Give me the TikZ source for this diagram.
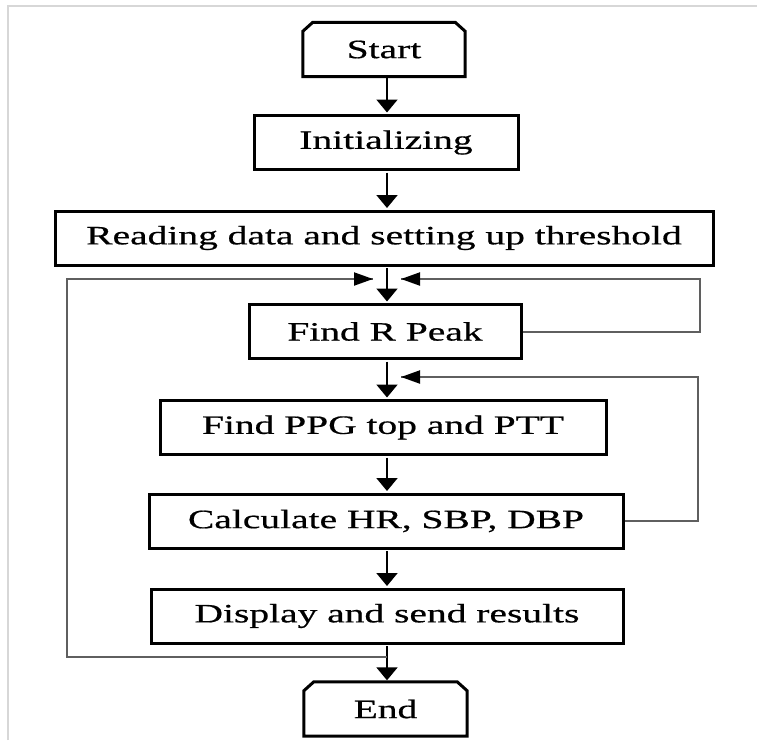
\documentclass[tikz,border=0pt]{standalone}
\usepackage{fontspec}
\setmainfont{Liberation Serif}[FakeStretch=1.49,FakeBold=0.6]
\usetikzlibrary{arrows.meta,calc}
\definecolor{loopgray}{RGB}{95,95,95}
\definecolor{framegray}{RGB}{215,215,215}
\begin{document}
\begin{tikzpicture}[x=1pt,y=-1pt,
  every node/.style={font=\fontsize{26.5}{30}\selectfont, inner sep=0pt},
  procbox/.style={draw=black, line width=3pt, minimum height=54pt},
  termbox/.style={minimum width=162pt, minimum height=54pt},
  termline/.style={line width=3pt, line join=miter},
  varr/.style={line width=2pt, -{Triangle[width=21pt,length=13pt]}},
  harr/.style={line width=2pt, -{Triangle[width=13pt,length=19pt,color=black]}},
  loopline/.style={line width=2pt, draw=loopgray}]
\useasboundingbox (0,0) rectangle (757,740);
\draw[framegray, line width=2pt] (8,740) -- (8,6) -- (757,6);

% nodes
\node[termbox] (start) at (384,49.5) {Start};
\node[procbox, minimum width=264pt] (init) at (386,142.5) {Initializing};
\node[procbox, minimum width=658pt] (read) at (384,238) {Reading data and setting up threshold};
\node[procbox, minimum width=272pt] (peak) at (385,331.5) {Find R Peak};
\node[procbox, minimum width=446pt] (ppg) at (383,427.5) {Find PPG top and PTT};
\node[procbox, minimum width=474pt] (calc) at (386,521) {Calculate HR, SBP, DBP};
\node[procbox, minimum width=472pt] (disp) at (387,616) {Display and send results};
\node[termbox, minimum width=163pt] (end) at (385.5,709) {End};

% chamfered terminals
\draw[termline] (start.south west) -- ($(start.north west)+(0,9)$) -- ($(start.north west)+(10,0)$)
  -- ($(start.north east)+(-10,0)$) -- ($(start.north east)+(0,9)$) -- (start.south east) -- cycle;
\draw[termline] (end.south west) -- ($(end.north west)+(0,9)$) -- ($(end.north west)+(10,0)$)
  -- ($(end.north east)+(-10,0)$) -- ($(end.north east)+(0,9)$) -- (end.south east) -- cycle;

% main column
\coordinate (col) at (387,0);
\draw[varr] ($(start.south -| col)+(0,1.5)$) -- ($(init.north -| col)+(0,-1.5)$);
\draw[varr] ($(init.south -| col)+(0,1.5)$) -- ($(read.north -| col)+(0,-1.5)$);
\draw[varr] ($(read.south -| col)+(0,1.5)$) -- ($(peak.north -| col)+(0,-1.5)$);
\draw[varr] ($(peak.south -| col)+(0,1.5)$) -- ($(ppg.north -| col)+(0,-1.5)$);
\draw[varr] ($(ppg.south -| col)+(0,1.5)$) -- ($(calc.north -| col)+(0,-1.5)$);
\draw[varr] ($(calc.south -| col)+(0,1.5)$) -- ($(disp.north -| col)+(0,-1.5)$);
\draw[varr] ($(disp.south -| col)+(0,1.5)$) -- ($(end.north -| col)+(0,-1.5)$);

% outer loop (Display -> Find R Peak)
\coordinate (jn) at (387,657);
\coordinate (lt) at (373,279);
\draw[loopline] (jn) -- (67,657) -- (67,279) -- (lt);
\draw[harr] ($(lt)+(-2,0)$) -- (lt);

% loop around Find R Peak
\coordinate (rt) at (401,279);
\draw[loopline] (peak.east) -- (700,331.5) -- (700,279) -- (rt);
\draw[harr] ($(rt)+(2,0)$) -- (rt);

% loop from Calculate back
\coordinate (rt2) at (401,377);
\draw[loopline] (calc.east) -- (698,521) -- (698,377) -- (rt2);
\draw[harr] ($(rt2)+(2,0)$) -- (rt2);
\end{tikzpicture}
\end{document}
